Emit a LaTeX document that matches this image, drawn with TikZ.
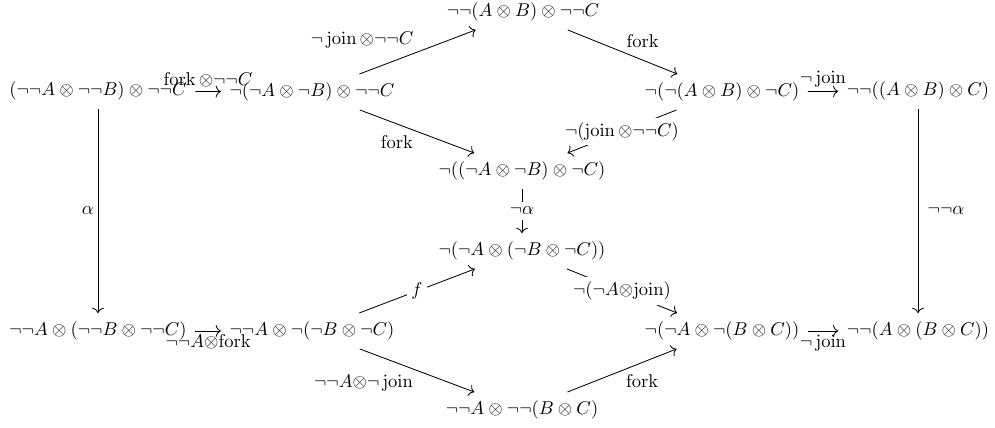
\documentclass[tikz,border=0pt]{standalone}
\usetikzlibrary{arrows.meta}
\begin{document}
\begin{tikzpicture}[x=0.54pt,y=-0.54pt,
  obj/.style={inner sep=4.5pt},
  arr/.style={-{To[length=2.8pt,width=6.4pt]},line width=0.45pt},
  lab/.style={inner sep=2pt},
  mid/.style={fill=white,inner sep=2.5pt}]
\useasboundingbox (0,0) rectangle (995,428);
\node[obj] (N1) at (98,91) {$(\neg\neg A\otimes\neg\neg B)\otimes\neg\neg C$};
\node[obj] (N2) at (312,92) {$\neg(\neg A\otimes\neg B)\otimes\neg\neg C$};
\node[obj] (N3) at (523,12) {$\neg\neg(A\otimes B)\otimes\neg\neg C$};
\node[obj] (N4) at (722,92) {$\neg(\neg(A\otimes B)\otimes\neg C)$};
\node[obj] (N5) at (918,91) {$\neg\neg((A\otimes B)\otimes C)$};
\node[obj] (N6) at (522,171) {$\neg((\neg A\otimes\neg B)\otimes\neg C)$};
\node[obj] (N7) at (522,251) {$\neg(\neg A\otimes(\neg B\otimes\neg C))$};
\node[obj] (N8) at (98,331) {$\neg\neg A\otimes(\neg\neg B\otimes\neg\neg C)$};
\node[obj] (N9) at (312,331) {$\neg\neg A\otimes\neg(\neg B\otimes\neg C)$};
\node[obj] (N10) at (522,410) {$\neg\neg A\otimes\neg\neg(B\otimes C)$};
\node[obj] (N11) at (722,331) {$\neg(\neg A\otimes\neg(B\otimes C))$};
\node[obj] (N12) at (918,331) {$\neg\neg(A\otimes(B\otimes C))$};

\draw[arr] (N1) -- node[lab,above] {$\mathrm{fork}\,{\otimes}\neg\neg C$} (N2);
\draw[arr] (N2) -- node[lab,above left] {$\neg\,\mathrm{join}\,{\otimes}\neg\neg C$} (N3);
\draw[arr] (N3) -- node[lab,above right] {$\mathrm{fork}$} (N4);
\draw[arr] (N4) -- node[lab,above] {$\neg\,\mathrm{join}$} (N5);
\draw[arr] (N2) -- node[lab,below left] {$\mathrm{fork}$} (N6);
\draw[arr] (N4) -- node[mid] {$\neg(\mathrm{join}\,{\otimes}\neg\neg C)$} (N6);
\draw[arr] (N6) -- node[mid] {$\neg\alpha$} (N7);
\draw[arr] (N1) -- node[lab,left] {$\alpha$} (N8);
\draw[arr] (N5) -- node[lab,right,xshift=3pt] {$\neg\neg\alpha$} (N12);
\draw[arr] (N8) -- node[lab,below] {$\neg\neg A{\otimes}\mathrm{fork}$} (N9);
\draw[arr] (N9) -- node[mid] {$f$} (N7);
\draw[arr] (N9) -- node[lab,below left] {$\neg\neg A{\otimes}\neg\,\mathrm{join}$} (N10);
\draw[arr] (N7) -- node[mid] {$\neg(\neg A{\otimes}\mathrm{join})$} (N11);
\draw[arr] (N10) -- node[lab,below right] {$\mathrm{fork}$} (N11);
\draw[arr] (N11) -- node[lab,below] {$\neg\,\mathrm{join}$} (N12);
\end{tikzpicture}
\end{document}
